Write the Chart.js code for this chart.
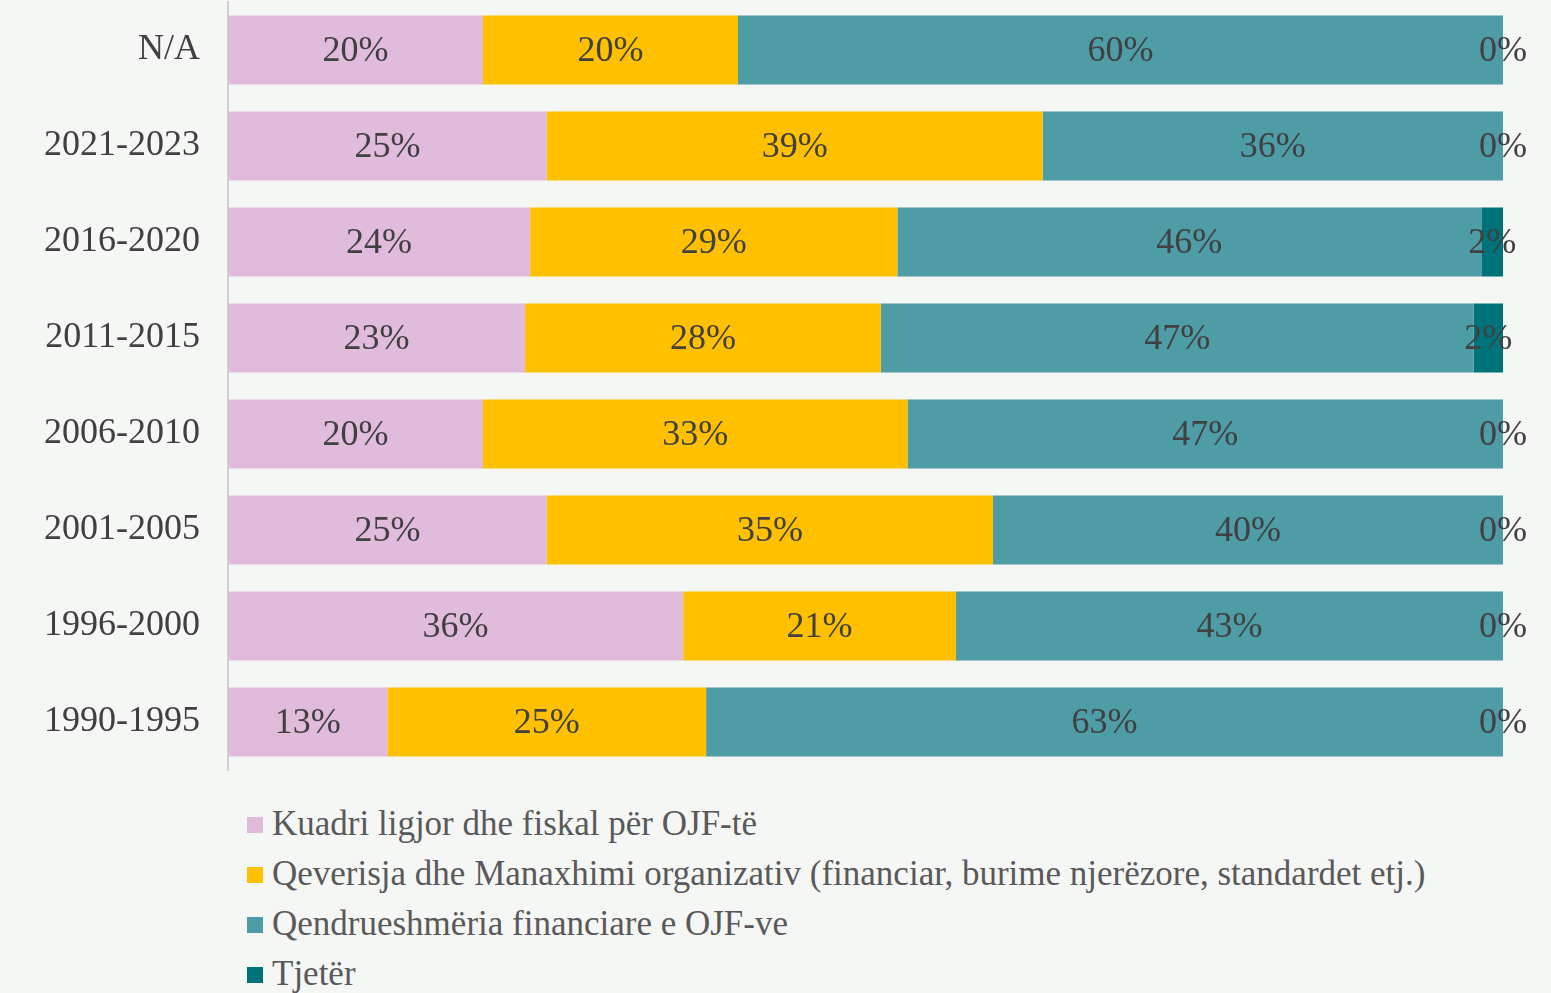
<!DOCTYPE html>
<html>
<head>
<meta charset="utf-8">
<script src="https://cdn.jsdelivr.net/npm/chart.js@4"></script>
<style>
  body { margin: 0; background: #f5f7f5; width: 1551px; height: 993px; overflow: hidden; position: relative; }
  #wrap { position: absolute; left: 0; top: 0; width: 1551px; height: 780px; }
  #legend { position: absolute; left: 247px; top: 799px; font-family: "Liberation Serif", serif; font-size: 35px; color: #595959; }
  #legend div { height: 50px; line-height: 50px; white-space: nowrap; }
  #legend span { display: inline-block; width: 16px; height: 16px; margin-right: 9px; vertical-align: middle; position: relative; top: -2px; }
</style>
</head>
<body>
<div id="wrap"><canvas id="bars"></canvas></div>
<div id="legend"></div>
<script>
var categories = ['N/A', '2021-2023', '2016-2020', '2011-2015', '2006-2010', '2001-2005', '1996-2000', '1990-1995'];
var seriesNames = [
  'Kuadri ligjor dhe fiskal për OJF-të',
  'Qeverisja dhe Manaxhimi organizativ (financiar, burime njerëzore, standardet etj.)',
  'Qendrueshmëria financiare e OJF-ve',
  'Tjetër'
];
var kuadri = [20, 25, 23.7, 23.3, 20, 25, 35.7, 12.5];
var qeverisja = [20, 38.9, 28.8, 27.9, 33.3, 35, 21.4, 25];
var qendrueshmeria = [60, 36.1, 45.8, 46.5, 46.7, 40, 42.9, 62.5];
var tjeter = [0, 0, 1.7, 2.3, 0, 0, 0, 0];
var colors = ['#e0bbdc', '#ffc000', '#4e9ca6', '#00737a'];

var seriesData = [kuadri, qeverisja, qendrueshmeria, tjeter];
var datasets = seriesData.map(function (d, i) {
  return {
    label: seriesNames[i],
    data: d,
    backgroundColor: colors[i],
    borderWidth: 0,
    barPercentage: 0.72,
    categoryPercentage: 1
  };
});

// value labels in the middle of each segment
var valueLabels = {
  id: 'valueLabels',
  afterDatasetsDraw: function (chart) {
    var c = chart.ctx;
    c.save();
    c.font = '36px "Liberation Serif"';
    c.fillStyle = '#404040';
    c.textAlign = 'center';
    c.textBaseline = 'middle';
    chart.data.datasets.forEach(function (ds, i) {
      chart.getDatasetMeta(i).data.forEach(function (el, j) {
        var x = (el.x + el.base) / 2;
        c.fillText(Math.round(ds.data[j]) + '%', x, el.y + 2);
      });
    });
    c.restore();
  }
};

var ctx = document.getElementById('bars').getContext('2d');
var chart = new Chart(ctx, {
  type: 'bar',
  data: { labels: categories, datasets: datasets },
  plugins: [valueLabels],
  options: {
    indexAxis: 'y',
    responsive: true,
    maintainAspectRatio: false,
    animation: false,
    layout: { padding: { top: 2, right: 48, bottom: 10, left: 0 } },
    plugins: { legend: { display: false }, tooltip: { enabled: false } },
    scales: {
      x: { stacked: true, min: 0, max: 100, display: false },
      y: {
        stacked: true,
        grid: { display: false },
        border: { display: true, color: '#d0d0d0', width: 2 },
        ticks: { color: '#404040', padding: 20, font: { family: 'Liberation Serif', size: 36 } },
        afterFit: function (scale) {
          scale.width = 228;
          scale.paddingTop = 0;
          scale.paddingBottom = 0;
        }
      }
    }
  }
});

var legend = document.getElementById('legend');
seriesNames.forEach(function (name, i) {
  var row = document.createElement('div');
  var box = document.createElement('span');
  box.style.background = colors[i];
  row.appendChild(box);
  row.appendChild(document.createTextNode(name));
  legend.appendChild(row);
});
</script>
</body>
</html>
